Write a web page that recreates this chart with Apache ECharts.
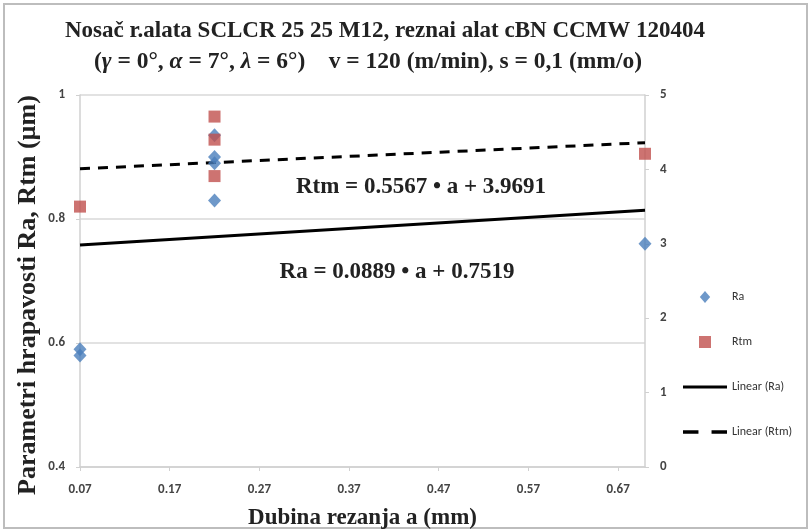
<!DOCTYPE html>
<html><head><meta charset="utf-8">
<script src="https://cdn.jsdelivr.net/npm/echarts@6/dist/echarts.min.js"></script>
<style>html,body{margin:0;padding:0;background:#fff}#c{width:811px;height:532px}</style>
</head><body><div id="c"></div>
<script>
// Data
const raX = [0.07, 0.07, 0.22, 0.22, 0.22, 0.22, 0.70];
const raY = [0.59, 0.58, 0.83, 0.89, 0.90, 0.935, 0.76];
const rtmX = [0.07, 0.22, 0.22, 0.22, 0.70];
const rtmY = [3.50, 4.71, 4.40, 3.91, 4.21];
const trendX = [0.07, 0.70];
const raTrendY = [0.758, 0.814];
const rtmTrendY = [4.008, 4.359];
const titleLine1 = 'Nosač r.alata SCLCR 25 25 M12, reznai alat cBN CCMW 120404';
const titleLine2 = '({i|γ} = 0°, {i|α} = 7°, {i|λ} = 6°)    v = 120 (m/min), s = 0,1 (mm/o)';
const xName = 'Dubina rezanja a (mm)';
const yName = 'Parametri hrapavosti Ra, Rtm (µm)';
const eqRa = 'Ra = 0.0889 • a + 0.7519';
const eqRtm = 'Rtm = 0.5567 • a + 3.9691';

const zip = (xs, ys) => xs.map((x, i) => [x, ys[i]]);
const serif = '"Liberation Serif","Times New Roman",serif';
const sans = 'Carlito,"Liberation Sans",Arial,sans-serif';
const tickLabel = {fontFamily: sans, fontSize: 13, fontWeight: 'bold', color: '#444'};

const chart = echarts.init(document.getElementById('c'), null, {renderer: 'canvas'});
chart.setOption({
  animation: false,
  backgroundColor: '#fff',
  grid: {left: 80, right: 166, top: 95, bottom: 65, containLabel: false, outerBoundsMode: 'none'},
  xAxis: {
    type: 'value', min: 0.07, max: 0.70, interval: 0.1,
    name: xName, nameLocation: 'middle', nameGap: 40,
    nameTextStyle: {fontFamily: serif, fontWeight: 'bold', fontSize: 23, color: '#222'},
    axisLine: {show: true, lineStyle: {color: '#d0d0d0', width: 1.5}},
    axisTick: {show: true, length: 4, inside: false, lineStyle: {color: '#d0d0d0'}},
    splitLine: {show: false},
    axisLabel: Object.assign({margin: 16, showMaxLabel: false, formatter: v => v.toFixed(2)}, tickLabel)
  },
  yAxis: [{
    type: 'value', min: 0.4, max: 1, interval: 0.2, position: 'left',
    axisLine: {show: true, lineStyle: {color: '#d0d0d0', width: 1.5}},
    axisTick: {show: true, length: 4, lineStyle: {color: '#d0d0d0'}},
    splitLine: {show: true, lineStyle: {color: '#d9d9d9', width: 1.5}},
    axisLabel: Object.assign({margin: 15, formatter: v => String(Math.round(v * 10) / 10)}, tickLabel)
  }, {
    type: 'value', min: 0, max: 5, interval: 1, position: 'right',
    axisLine: {show: true, lineStyle: {color: '#d0d0d0', width: 1.5}},
    axisTick: {show: true, length: 4, lineStyle: {color: '#d0d0d0'}},
    splitLine: {show: false},
    axisLabel: Object.assign({margin: 15}, tickLabel)
  }],
  legend: {
    orient: 'vertical', left: 678, top: 286, itemGap: 33, itemWidth: 44, itemHeight: 12,
    symbolKeepAspect: true,
    textStyle: {fontFamily: sans, fontSize: 12, color: '#333'},
    data: [
      {name: 'Ra', icon: 'path://M0,-7L6,0L0,7L-6,0Z', itemStyle: {color: '#4a7ebb'}},
      {name: 'Rtm', icon: 'path://M0,0H11V11H0Z', itemStyle: {color: '#c0504d'}},
      {name: 'Linear (Ra)', icon: 'path://M0,0H44V3H0Z', itemStyle: {color: '#000'}},
      {name: 'Linear (Rtm)', icon: 'path://M0,0H13V3H0Z M24,0H37V3H24Z', itemStyle: {color: '#000'}}
    ]
  },
  series: [
    {name: 'Linear (Ra)', type: 'line', yAxisIndex: 0, data: zip(trendX, raTrendY), symbol: 'none',
      lineStyle: {color: '#000', width: 3}, itemStyle: {color: '#000'}, z: 2},
    {name: 'Linear (Rtm)', type: 'line', yAxisIndex: 1, data: zip(trendX, rtmTrendY), symbol: 'none',
      lineStyle: {color: '#000', width: 3, type: [10, 8]}, itemStyle: {color: '#000'}, z: 2},
    {name: 'Ra', type: 'scatter', yAxisIndex: 0, data: zip(raX, raY), symbol: 'diamond', symbolSize: [13, 14],
      itemStyle: {color: '#4a7ebb'}, z: 3},
    {name: 'Rtm', type: 'scatter', yAxisIndex: 1, data: zip(rtmX, rtmY), symbol: 'rect', symbolSize: 12,
      itemStyle: {color: '#c0504d'}, z: 4}
  ],
  graphic: [
    {type: 'rect', shape: {x: 4, y: 4, width: 803, height: 524}, style: {fill: 'none', stroke: '#bdbdbd', lineWidth: 2}, silent: true},
    {type: 'text', x: 385, y: 31, style: {text: titleLine1, font: 'bold 23px ' + serif, fill: '#222', align: 'center', verticalAlign: 'middle'}},
    {type: 'text', x: 368, y: 62, style: {
      text: titleLine2, font: 'bold 23.5px ' + serif, fill: '#222', align: 'center', verticalAlign: 'middle',
      rich: {i: {fontFamily: serif, fontWeight: 'bold', fontStyle: 'italic', fontSize: 23.5, fill: '#222'}}}},
    {type: 'text', x: 28, y: 295, rotation: Math.PI / 2, style: {text: yName, font: 'bold 26px ' + serif, fill: '#222', align: 'center', verticalAlign: 'middle'}},
    {type: 'text', x: 421, y: 187, style: {text: eqRtm, font: 'bold 23px ' + serif, fill: '#222', align: 'center', verticalAlign: 'middle'}},
    {type: 'text', x: 397, y: 272, style: {text: eqRa, font: 'bold 23px ' + serif, fill: '#222', align: 'center', verticalAlign: 'middle'}}
  ]
});
</script></body></html>
